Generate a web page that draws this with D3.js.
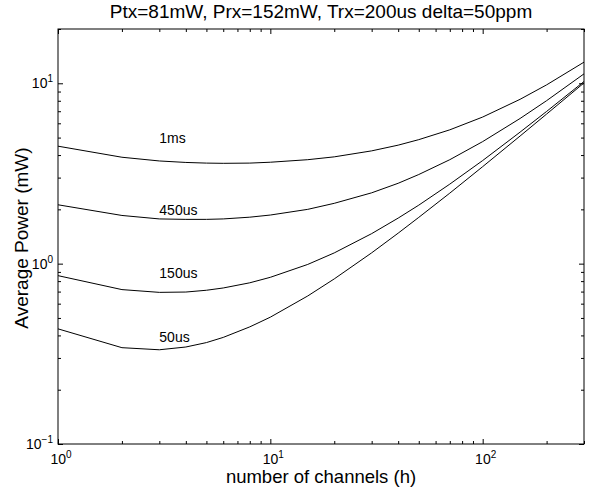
<!DOCTYPE html>
<html>
<head>
<meta charset="utf-8">
<script src="https://cdn.jsdelivr.net/npm/d3@7"></script>
<style>
  body { margin: 0; background: #fff; }
  svg { display: block; font-family: "Liberation Sans", Arial, Helvetica, sans-serif; }
</style>
</head>
<body>
<svg id="chart" width="595" height="492"></svg>
<script>
// number of channels (h)
const channels = [1, 2, 3, 4, 5, 6, 8, 10, 15, 20, 30, 40, 50, 70, 100, 150, 200, 300];

// average power (mW) per receive window
const power1ms  = [4.48, 3.89, 3.71, 3.64, 3.61, 3.60, 3.61, 3.65, 3.77, 3.91, 4.22, 4.54, 4.87, 5.52, 6.50, 8.15, 9.80, 13.1];
const power450us = [2.12, 1.85, 1.77, 1.76, 1.76, 1.77, 1.81, 1.86, 2.00, 2.16, 2.47, 2.79, 3.12, 3.77, 4.75, 6.38, 8.01, 11.28];
const power150us = [0.858, 0.718, 0.693, 0.696, 0.712, 0.733, 0.783, 0.84, 0.99, 1.147, 1.467, 1.789, 2.11, 2.76, 3.73, 5.36, 6.98, 10.23];
const power50us  = [0.435, 0.342, 0.333, 0.345, 0.365, 0.39, 0.446, 0.505, 0.662, 0.823, 1.148, 1.476, 1.805, 2.46, 3.45, 5.10, 6.75, 10.05];

const seriesNames = ["1ms", "450us", "150us", "50us"];
const seriesValues = [power1ms, power450us, power150us, power50us];
// where each curve's text label sits (data coordinates)
const labelH = [3, 3, 3, 3];
const labelP = [4.66, 1.855, 0.829, 0.366];

const xMajor = [1, 10, 100];
const yMajor = [0.1, 1, 10];
const xMinor = [2, 3, 4, 5, 6, 7, 8, 9, 20, 30, 40, 50, 60, 70, 80, 90, 200, 300];
const yMinor = [0.2, 0.3, 0.4, 0.5, 0.6, 0.7, 0.8, 0.9, 2, 3, 4, 5, 6, 7, 8, 9, 20];

const title = "Ptx=81mW, Prx=152mW, Trx=200us delta=50ppm";

const svg = d3.select("#chart"),
  width = 595,
  height = 492,
  margin = { top: 29, right: 11, bottom: 48, left: 58 };

const x = d3.scaleLog().domain([1, 300]).range([margin.left, width - margin.right]);
const y = d3.scaleLog().domain([0.1, 20]).range([height - margin.bottom, margin.top]);

const major = 5, minor = 3;

// ticks on all four sides, pointing inwards
function tickAxes(values, len) {
  svg.append("g").attr("transform", `translate(0,${y.range()[0]})`)
    .call(d3.axisBottom(x).tickValues(values).tickSize(-len).tickFormat(""));
  svg.append("g").attr("transform", `translate(0,${y.range()[1]})`)
    .call(d3.axisTop(x).tickValues(values).tickSize(-len).tickFormat(""));
}
function tickAxesY(values, len) {
  svg.append("g").attr("transform", `translate(${x.range()[0]},0)`)
    .call(d3.axisLeft(y).tickValues(values).tickSize(-len).tickFormat(""));
  svg.append("g").attr("transform", `translate(${x.range()[1]},0)`)
    .call(d3.axisRight(y).tickValues(values).tickSize(-len).tickFormat(""));
}
tickAxes(xMajor, major);
tickAxes(xMinor, minor);
tickAxesY(yMajor, major);
tickAxesY(yMinor, minor);
svg.selectAll(".domain").remove();
svg.selectAll(".tick line").attr("stroke", "#000").attr("stroke-width", 1);

// box
svg.append("rect")
  .attr("x", x.range()[0]).attr("y", y.range()[1])
  .attr("width", x.range()[1] - x.range()[0])
  .attr("height", y.range()[0] - y.range()[1])
  .attr("fill", "none").attr("stroke", "#000").attr("stroke-width", 1);

// power-of-ten labels
const exp = (v) => String(Math.round(Math.log10(v))).replace("-", "\u2212");
function pow10(sel) {
  sel.append("tspan").text("10");
  sel.append("tspan").attr("font-size", 10).attr("dy", -6).text((d) => exp(d));
}
svg.append("g").selectAll("text").data(xMajor).join("text")
  .attr("x", (d) => x(d) + 3).attr("y", 464)
  .attr("text-anchor", "middle").attr("font-size", 14)
  .call(pow10);
svg.append("g").selectAll("text").data(yMajor).join("text")
  .attr("x", x.range()[0] - 5).attr("y", (d) => y(d) + 5)
  .attr("text-anchor", "end").attr("font-size", 14)
  .call(pow10);

// curves
const line = d3.line().x((d) => x(d[0])).y((d) => y(d[1]));
svg.append("g").selectAll("path").data(seriesValues).join("path")
  .attr("d", (vals) => line(channels.map((h, i) => [h, vals[i]])))
  .attr("fill", "none").attr("stroke", "#000").attr("stroke-width", 1);

svg.append("g").selectAll("text").data(seriesNames).join("text")
  .attr("x", (d, i) => x(labelH[i])).attr("y", (d, i) => y(labelP[i]))
  .attr("font-size", 14).text((d) => d);

// titles
svg.append("text")
  .attr("x", (x.range()[0] + x.range()[1]) / 2).attr("y", 18)
  .attr("text-anchor", "middle").attr("font-size", 19).text(title);
svg.append("text")
  .attr("x", (x.range()[0] + x.range()[1]) / 2).attr("y", 483)
  .attr("text-anchor", "middle").attr("font-size", 18.5).text("number of channels (h)");
svg.append("text")
  .attr("transform", `translate(28,238) rotate(-90)`)
  .attr("text-anchor", "middle").attr("font-size", 19).text("Average Power (mW)");
</script>
</body>
</html>
